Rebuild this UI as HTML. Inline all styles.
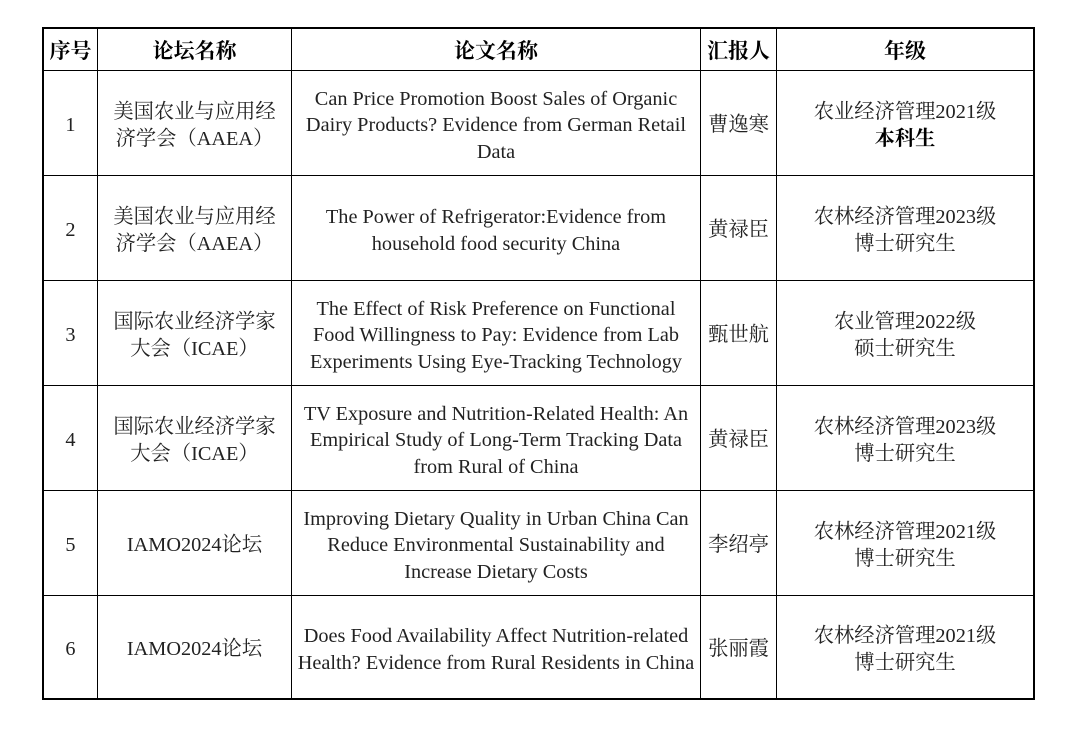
<!DOCTYPE html>
<html><head><meta charset="utf-8"><style>
body{margin:0;width:1080px;height:733px;background:#fff;position:relative;overflow:hidden;font-family:"Liberation Serif","Noto Serif CJK SC",serif;color:#222}
.h,.v{position:absolute;background:#000}
.h{height:1px}.v{width:1px}
.c{position:absolute;display:flex;align-items:center;justify-content:center;text-align:center;font-size:20.3px;line-height:26.5px;padding-top:5px;box-sizing:border-box}
.b{font-weight:bold;font-size:21px;color:#000;padding-top:3px}
</style></head><body>
<div class="h" style="left:42px;width:993px;top:27px;height:2px"></div>
<div class="h" style="left:42px;width:993px;top:698px;height:2px"></div>
<div class="v" style="left:42px;top:27px;height:673px;width:2px"></div>
<div class="v" style="left:1033px;top:27px;height:673px;width:2px"></div>
<div class="v" style="left:97px;top:27px;height:673px"></div>
<div class="v" style="left:291px;top:27px;height:673px"></div>
<div class="v" style="left:700px;top:27px;height:673px"></div>
<div class="v" style="left:776px;top:27px;height:673px"></div>
<div class="h" style="left:42px;width:993px;top:70px"></div>
<div class="h" style="left:42px;width:993px;top:175px"></div>
<div class="h" style="left:42px;width:993px;top:280px"></div>
<div class="h" style="left:42px;width:993px;top:385px"></div>
<div class="h" style="left:42px;width:993px;top:490px"></div>
<div class="h" style="left:42px;width:993px;top:595px"></div>

<div class="c b" style="left:44px;width:53px;top:29px;height:41px">序号</div>
<div class="c b" style="left:98px;width:193px;top:29px;height:41px">论坛名称</div>
<div class="c b" style="left:292px;width:408px;top:29px;height:41px">论文名称</div>
<div class="c b" style="left:701px;width:75px;top:29px;height:41px">汇报人</div>
<div class="c b" style="left:777px;width:256px;top:29px;height:41px">年级</div>

<div class="c" style="left:44px;width:53px;top:71px;height:104px">1</div>
<div class="c" style="left:98px;width:193px;top:71px;height:104px">美国农业与应用经<br>济学会（AAEA）</div>
<div class="c" style="left:292px;width:408px;top:71px;height:104px">Can Price Promotion Boost Sales of Organic<br>Dairy Products? Evidence from German Retail<br>Data</div>
<div class="c" style="left:701px;width:75px;top:71px;height:104px">曹逸寒</div>
<div class="c" style="left:777px;width:256px;top:71px;height:104px"><span>农业经济管理2021级<br><b style="color:#000">本科生</b></span></div>

<div class="c" style="left:44px;width:53px;top:176px;height:104px">2</div>
<div class="c" style="left:98px;width:193px;top:176px;height:104px">美国农业与应用经<br>济学会（AAEA）</div>
<div class="c" style="left:292px;width:408px;top:176px;height:104px">The Power of Refrigerator:Evidence from<br>household food security China</div>
<div class="c" style="left:701px;width:75px;top:176px;height:104px">黄禄臣</div>
<div class="c" style="left:777px;width:256px;top:176px;height:104px">农林经济管理2023级<br>博士研究生</div>

<div class="c" style="left:44px;width:53px;top:281px;height:104px">3</div>
<div class="c" style="left:98px;width:193px;top:281px;height:104px">国际农业经济学家<br>大会（ICAE）</div>
<div class="c" style="left:292px;width:408px;top:281px;height:104px">The Effect of Risk Preference on Functional<br>Food Willingness to Pay: Evidence from Lab<br>Experiments Using Eye-Tracking Technology</div>
<div class="c" style="left:701px;width:75px;top:281px;height:104px">甄世航</div>
<div class="c" style="left:777px;width:256px;top:281px;height:104px">农业管理2022级<br>硕士研究生</div>

<div class="c" style="left:44px;width:53px;top:386px;height:104px">4</div>
<div class="c" style="left:98px;width:193px;top:386px;height:104px">国际农业经济学家<br>大会（ICAE）</div>
<div class="c" style="left:292px;width:408px;top:386px;height:104px">TV Exposure and Nutrition-Related Health: An<br>Empirical Study of Long-Term Tracking Data<br>from Rural of China</div>
<div class="c" style="left:701px;width:75px;top:386px;height:104px">黄禄臣</div>
<div class="c" style="left:777px;width:256px;top:386px;height:104px">农林经济管理2023级<br>博士研究生</div>

<div class="c" style="left:44px;width:53px;top:491px;height:104px">5</div>
<div class="c" style="left:98px;width:193px;top:491px;height:104px">IAMO2024论坛</div>
<div class="c" style="left:292px;width:408px;top:491px;height:104px">Improving Dietary Quality in Urban China Can<br>Reduce Environmental Sustainability and<br>Increase Dietary Costs</div>
<div class="c" style="left:701px;width:75px;top:491px;height:104px">李绍亭</div>
<div class="c" style="left:777px;width:256px;top:491px;height:104px">农林经济管理2021级<br>博士研究生</div>

<div class="c" style="left:44px;width:53px;top:596px;height:102px">6</div>
<div class="c" style="left:98px;width:193px;top:596px;height:102px">IAMO2024论坛</div>
<div class="c" style="left:292px;width:408px;top:596px;height:102px">Does Food Availability Affect Nutrition-related<br>Health? Evidence from Rural Residents in China</div>
<div class="c" style="left:701px;width:75px;top:596px;height:102px">张丽霞</div>
<div class="c" style="left:777px;width:256px;top:596px;height:102px">农林经济管理2021级<br>博士研究生</div>
</body></html>
